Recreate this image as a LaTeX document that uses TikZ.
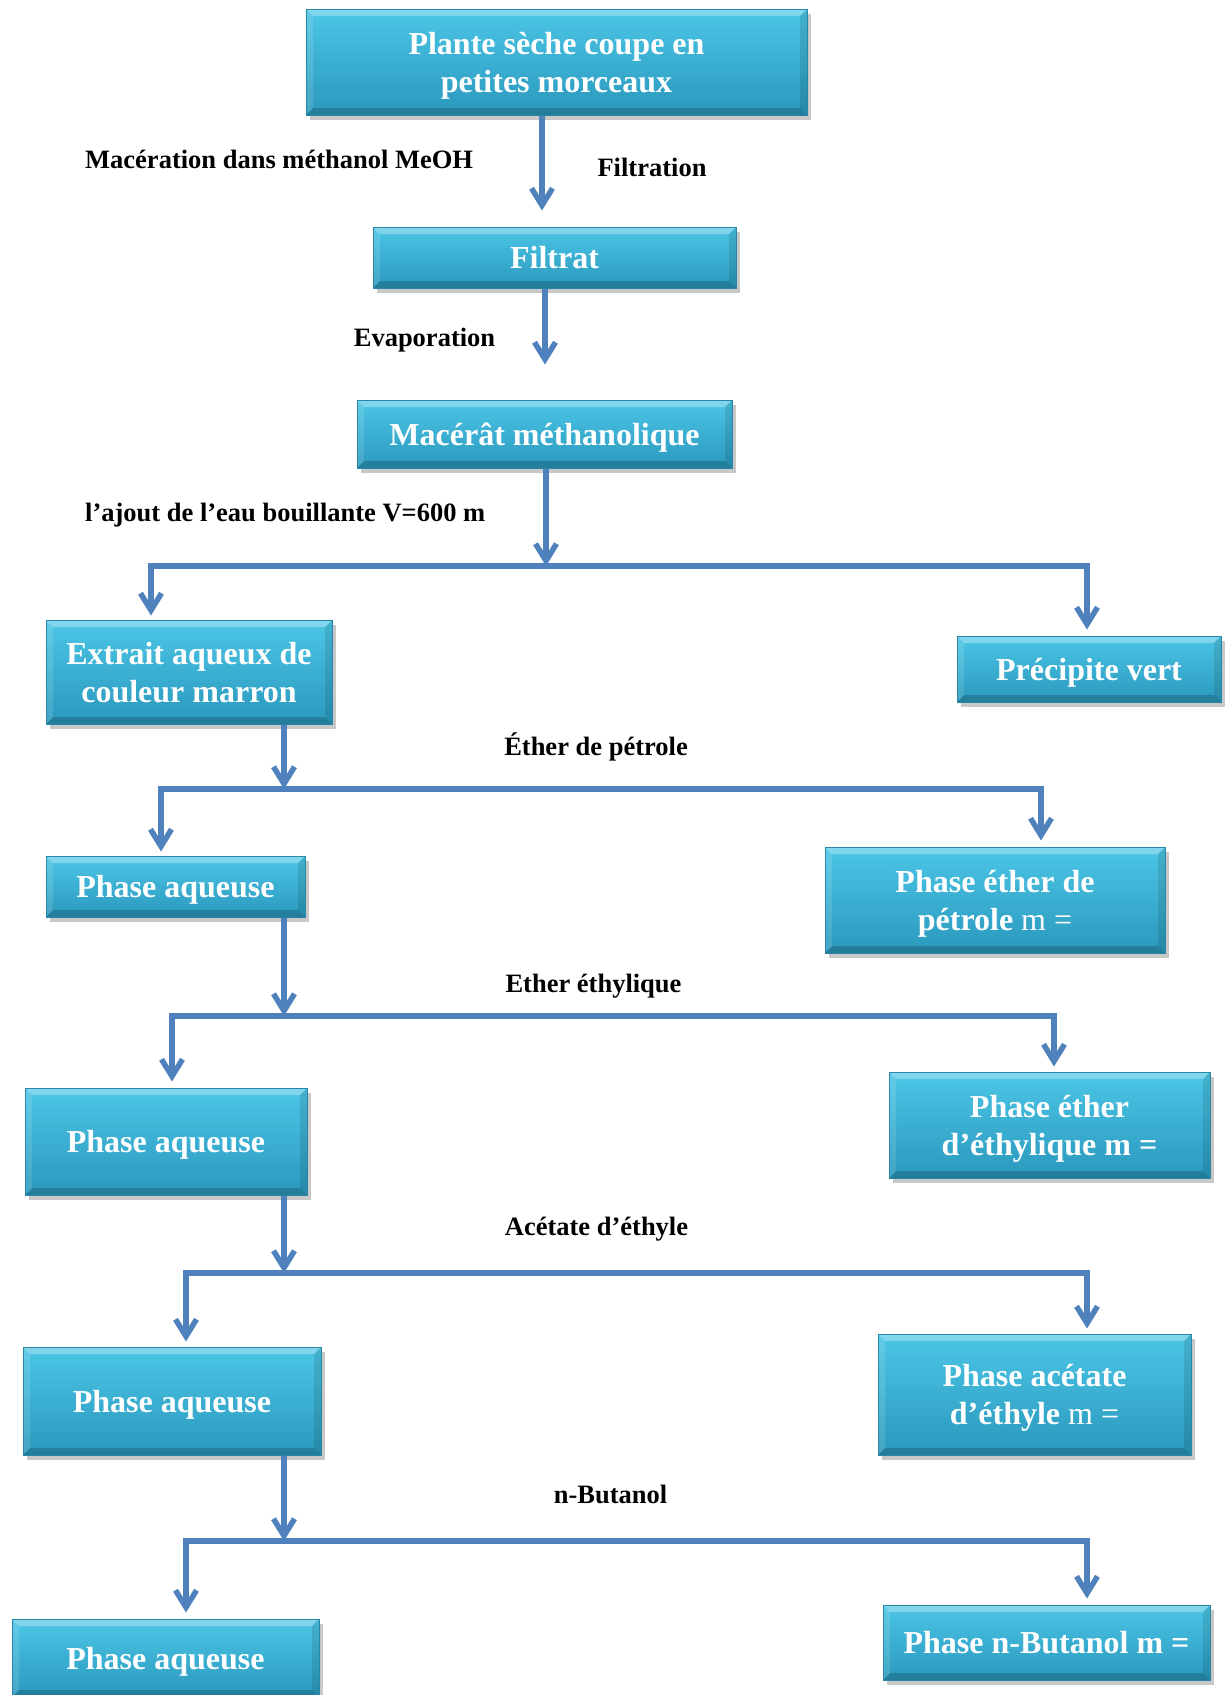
\documentclass[tikz,border=0pt]{standalone}
\usepackage{fontspec}
\setmainfont{Liberation Serif}
\usetikzlibrary{arrows.meta,shadows}
\definecolor{boxtop}{HTML}{4CC6E6}
\definecolor{boxbot}{HTML}{2A98BD}
\definecolor{boxedge}{HTML}{2A86A6}
\definecolor{arrowblue}{HTML}{4F81BD}
\tikzset{
  stagebox/.style={rectangle, draw=boxedge, line width=1pt, top color=boxtop, bottom color=boxbot,
    text=white, align=center, inner sep=0pt, text depth=-1pt,
    font=\bfseries\fontsize{32}{38}\selectfont,
    drop shadow={shadow xshift=4pt, shadow yshift=-5pt, opacity=.3, fill=black!70},
    path picture={
      \fill[white,opacity=.30] (path picture bounding box.north west) -- (path picture bounding box.north east)
        -- ([xshift=-7pt,yshift=-7pt]path picture bounding box.north east) -- ([xshift=7pt,yshift=-7pt]path picture bounding box.north west) -- cycle;
      \fill[black,opacity=.18] (path picture bounding box.south west) -- (path picture bounding box.south east)
        -- ([xshift=-7pt,yshift=7pt]path picture bounding box.south east) -- ([xshift=7pt,yshift=7pt]path picture bounding box.south west) -- cycle;
      \fill[black,opacity=.10] (path picture bounding box.north east) -- (path picture bounding box.south east)
        -- ([xshift=-7pt,yshift=7pt]path picture bounding box.south east) -- ([xshift=-7pt,yshift=-7pt]path picture bounding box.north east) -- cycle;
      \fill[white,opacity=.12] (path picture bounding box.north west) -- (path picture bounding box.south west)
        -- ([xshift=7pt,yshift=7pt]path picture bounding box.south west) -- ([xshift=7pt,yshift=-7pt]path picture bounding box.north west) -- cycle;
    }},
  steplabel/.style={font=\bfseries\fontsize{26.5}{30}\selectfont, text=black, inner sep=0pt},
  arr/.style={draw=arrowblue, line width=5.5pt, line join=miter, -{Straight Barb[length=17pt,width=21pt]}},
}
\begin{document}
\begin{tikzpicture}[x=1pt,y=-1pt]
\useasboundingbox (0,0) rectangle (1224,1695);
\fill[white] (0,0) rectangle (1224,1695);

% boxes
\node[stagebox, minimum width=501pt, minimum height=106pt] (plante) at (556.5,62) {Plante sèche coupe en\\petites morceaux};
\node[stagebox, minimum width=363pt, minimum height=61pt] (filtrat) at (554.5,257.5) {Filtrat};
\node[stagebox, minimum width=375pt, minimum height=68pt] (macerat) at (544.5,434) {Macérât méthanolique};
\node[stagebox, minimum width=286pt, minimum height=104pt] (extrait) at (189,672) {Extrait aqueux de\\couleur marron};
\node[stagebox, minimum width=264pt, minimum height=66pt] (precip) at (1089,669) {Précipite vert};
\node[stagebox, minimum width=259pt, minimum height=61pt] (aq1) at (175.5,886.5) {Phase aqueuse};
\node[stagebox, minimum width=340pt, minimum height=106pt] (etherpet) at (995,900) {Phase éther de\\pétrole {\mdseries m =}};
\node[stagebox, minimum width=282pt, minimum height=107pt] (aq2) at (166,1141.5) {Phase aqueuse};
\node[stagebox, minimum width=321pt, minimum height=106pt] (ethereth) at (1049.5,1125) {Phase éther\\d’éthylique m =};
\node[stagebox, minimum width=298pt, minimum height=108pt] (aq3) at (172,1401) {Phase aqueuse};
\node[stagebox, minimum width=313pt, minimum height=121pt] (acetate) at (1034.5,1394.5) {Phase acétate\\d’éthyle {\mdseries m =}};
\node[stagebox, minimum width=307pt, minimum height=78pt] (aq4) at (165.5,1658) {Phase aqueuse};
\node[stagebox, minimum width=327pt, minimum height=75pt] (butanol) at (1046.5,1642.5) {Phase n-Butanol m =};

% labels
\node[steplabel, anchor=west] (lmac) at (85,159) {Macération dans méthanol MeOH};
\node[steplabel] (lfil) at (652,167) {Filtration};
\node[steplabel] (levap) at (424.5,340) {Evaporation};
\node[steplabel, anchor=west] (leau) at (85,515) {l’ajout de l’eau bouillante V=600 m};
\node[steplabel] (lpet) at (596,747) {Éther de pétrole};
\node[steplabel] (leth) at (593.5,986) {Ether éthylique};
\node[steplabel] (lace) at (596.5,1229) {Acétate d’éthyle};
\node[steplabel] (lbut) at (610.5,1494) {n-Butanol};

% connector coordinates
\coordinate (x1) at (542,0);
\coordinate (x2) at (545,0);
\coordinate (x3) at (546,566);
\coordinate (L1) at (151,566);
\coordinate (R1) at (1087,566);
\coordinate (x4) at (284,789);
\coordinate (L2) at (161,789);
\coordinate (R2) at (1041,789);
\coordinate (x5) at (284,1016);
\coordinate (L3) at (172,1016);
\coordinate (R3) at (1054,1016);
\coordinate (x6) at (284,1273);
\coordinate (L4) at (186,1273);
\coordinate (R4) at (1087,1273);
\coordinate (x7) at (284,1541);
\coordinate (L5) at (186,1541);
\coordinate (R5) at (1087,1541);

% connectors
\draw[arr, shorten >=16pt] (plante.south -| x1) -- (filtrat.north -| x1);
\draw[arr, shorten >=35pt] (filtrat.south -| x2) -- (macerat.north -| x2);
\draw[arr] (macerat.south -| x3) -- (x3);
\draw[arr, shorten >=4pt] (R1) -- (L1) -- (extrait.north -| L1);
\draw[arr, shorten >=6pt] (L1) -- (R1) -- (precip.north -| R1);

\draw[arr] (extrait.south -| x4) -- (x4);
\draw[arr, shorten >=4pt] (R2) -- (L2) -- (aq1.north -| L2);
\draw[arr, shorten >=6pt] (L2) -- (R2) -- (etherpet.north -| R2);

\draw[arr] (aq1.south -| x5) -- (x5);
\draw[arr, shorten >=6pt] (R3) -- (L3) -- (aq2.north -| L3);
\draw[arr, shorten >=5pt] (L3) -- (R3) -- (ethereth.north -| R3);

\draw[arr] (aq2.south -| x6) -- (x6);
\draw[arr, shorten >=5pt] (R4) -- (L4) -- (aq3.north -| L4);
\draw[arr, shorten >=5pt] (L4) -- (R4) -- (acetate.north -| R4);

\draw[arr] (aq3.south -| x7) -- (x7);
\draw[arr, shorten >=6pt] (R5) -- (L5) -- (aq4.north -| L5);
\draw[arr, shorten >=6pt] (L5) -- (R5) -- (butanol.north -| R5);
\end{tikzpicture}
\end{document}
